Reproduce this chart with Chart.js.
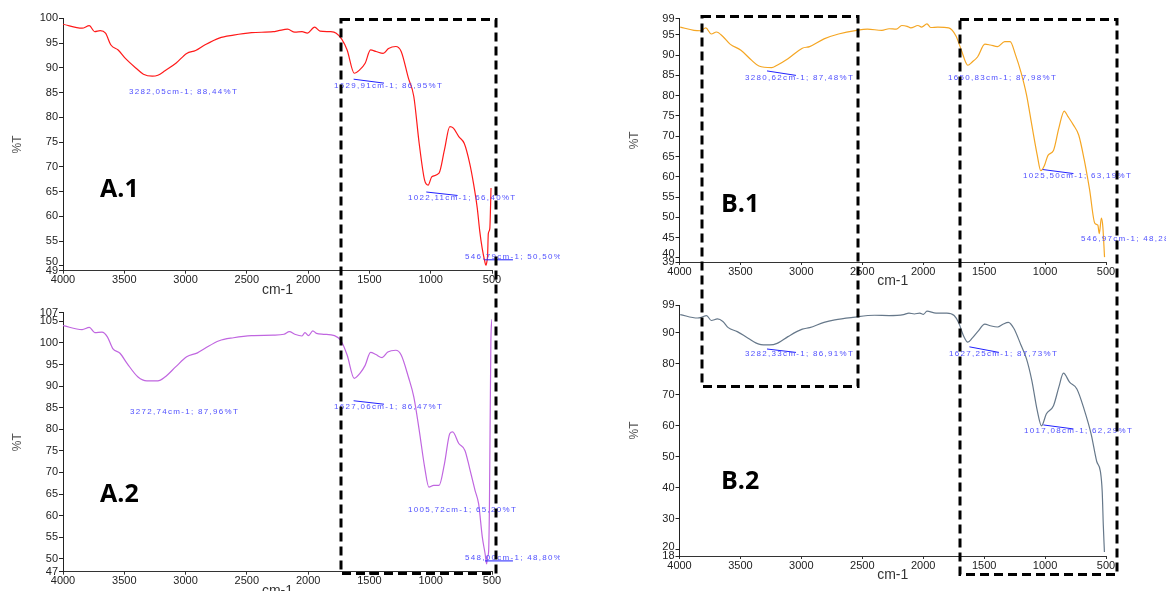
<!DOCTYPE html>
<html>
<head>
<meta charset="utf-8">
<script src="https://cdn.jsdelivr.net/npm/chart.js@4.4.0/dist/chart.umd.min.js"></script>
<style>
html,body{margin:0;padding:0;background:#fff;}
body{width:1166px;height:591px;position:relative;overflow:hidden;}
canvas{position:absolute;}
.tag{position:absolute;font:700 25px/25px "Open Sans",sans-serif;color:#000;}
svg{position:absolute;left:0;top:0;}
</style>
</head>
<body>
<canvas id="a1"></canvas>
<canvas id="a2"></canvas>
<canvas id="b1"></canvas>
<canvas id="b2"></canvas>
<div class="tag" style="left:100px;top:175px">A.1</div>
<div class="tag" style="left:100px;top:480px">A.2</div>
<div class="tag" style="left:721px;top:190px">B.1</div>
<div class="tag" style="left:721px;top:467px">B.2</div>
<svg width="1166" height="591">
  <g fill="none" stroke="#000" stroke-width="3" stroke-dasharray="9 5">
    <rect x="341" y="19.5" width="155" height="554"/>
    <rect x="702" y="16.5" width="156" height="370"/>
    <rect x="960" y="19.5" width="157" height="555"/>
  </g>
</svg>
<script>
function $(id){return document.getElementById(id);}
Chart.defaults.font.family='Liberation Sans';

// ========== Data ==========
const xTicks=[4000,3500,3000,2500,2000,1500,1000,500];

const a1Wn=[4000,3844,3785,3741,3697,3653,3609,3550,3491,3403,3344,3271,3226,3168,3079,2991,2918,2844,2726,2609,2462,2285,2241,2168,2109,2050,2006,1947,1903,1815,1771,1726,1682,1624,1579,1535,1491,1447,1388,1344,1285,1241,1182,1138,1094,1050,1021,991,932,888,844,815,771,726,682,650,620,600,580,560,550,542,536,530,518,508];
const a1T=[98.8,98.0,98.5,97.3,97.5,97.0,94.6,93.6,91.9,89.9,88.7,88.3,88.5,89.4,90.9,92.9,93.5,94.6,96.0,96.6,97.1,97.3,97.5,97.8,97.2,97.3,97.0,98.2,97.4,97.3,97.0,95.8,93.6,88.9,89.6,90.9,93.6,93.3,92.9,93.9,94.3,93.3,87.9,84.2,74.7,67.3,66.3,68.0,68.7,73.4,78.1,77.8,76.1,74.7,70.7,66.5,61.6,57.0,53.5,51.0,50.1,50.8,52.0,56.5,57.5,65.7];
const a1Ticks=[49,50,55,60,65,70,75,80,85,90,95,100];

const a2Wn=[4000,3844,3785,3741,3682,3638,3594,3535,3476,3388,3315,3226,3168,3079,2991,2903,2844,2726,2609,2462,2285,2197,2153,2109,2050,2026,1997,1962,1932,1874,1785,1732,1682,1624,1579,1535,1491,1447,1397,1350,1285,1241,1182,1138,1094,1050,1015,976,932,888,844,821,771,721,682,638,609,579,556,544,536,528,521,509,500];
const a2T=[104.0,103.1,103.6,102.4,102.5,101.4,98.7,97.6,95.2,92.1,91.2,91.2,92.1,94.5,96.8,97.7,98.7,100.5,101.2,101.7,101.8,102.0,102.6,102.0,101.6,102.4,101.7,102.8,102.2,102.0,101.7,100.5,97.2,91.8,92.9,94.8,97.8,97.3,96.6,97.9,98.3,97.2,92.1,87.5,79.8,71.3,66.6,67.0,67.0,72.0,79.0,79.4,76.7,75.1,70.9,65.8,62.7,55.0,51.1,48.8,50.5,51.5,62.0,100.7,105.5];
const a2Ticks=[47,50,55,60,65,70,75,80,85,90,95,100,105,107];

const b1Wn=[3994,3881,3828,3784,3739,3697,3644,3585,3496,3407,3348,3244,3199,3110,2992,2932,2814,2695,2547,2458,2339,2280,2221,2176,2132,2102,2043,2013,1969,1939,1880,1791,1731,1687,1634,1598,1553,1494,1450,1390,1331,1287,1242,1198,1153,1109,1064,1035,1005,976,931,887,843,813,768,724,680,635,591,567,555,538,526,512];
const b1T=[96.9,96.1,96.0,96.7,95.2,95.7,94.6,92.7,91.2,88.7,87.3,86.9,87.5,89.1,91.7,92.1,94.0,95.2,96.1,96.4,96.1,96.5,96.4,97.3,97.1,96.7,97.3,96.9,97.7,96.8,96.9,96.7,94.7,91.2,87.5,88.3,89.6,92.7,92.5,92.1,93.3,93.3,90.0,85.8,80.3,72.8,65.3,61.5,62.8,65.3,66.5,72.0,76.2,74.9,72.8,70.3,64.4,56.9,48.5,48.1,46.0,49.8,47.7,40.2];
const b1Ticks=[39,40,45,50,55,60,65,70,75,80,85,90,95,99];

const b2Wn=[3994,3852,3822,3778,3739,3689,3644,3600,3526,3437,3348,3259,3199,3110,2992,2932,2814,2725,2577,2399,2280,2162,2117,2073,2028,1998,1969,1895,1806,1746,1708,1672,1634,1598,1553,1494,1450,1390,1346,1301,1257,1198,1153,1109,1064,1029,990,931,887,849,799,739,680,621,576,546,531,522,513];
const b2T=[95.9,94.8,95.0,95.6,94.0,94.5,93.7,91.7,90.4,88.3,86.4,86.1,86.6,88.8,91.2,91.7,93.4,94.2,95.0,95.7,95.6,95.9,96.4,96.1,96.4,96.0,97.0,96.4,96.4,95.6,93.2,89.3,87.0,88.3,90.4,92.8,92.3,91.9,92.8,93.4,91.5,86.1,81.7,74.7,64.9,60.0,63.8,66.5,72.5,77.0,74.1,71.9,65.4,57.2,48.5,45.3,38.7,27.8,19.3];
const b2Ticks=[18,20,30,40,50,60,70,80,90,99];

// peak labels (text + where they sit, in axis units)
const a1Notes=[
  {t:'3282,05cm-1; 88,44%T',x:3462,y:85.2},
  {t:'1629,91cm-1; 86,95%T',x:1789,y:86.3,line:[1629,87.7,1381,86.9]},
  {t:'1022,11cm-1; 66,40%T',x:1186,y:63.7,line:[1036,64.9,781,64.2]},
  {t:'546,79cm-1; 50,50%',x:721,y:51.8,line:[561,51.2,329,51.2]}
];
const a2Notes=[
  {t:'3272,74cm-1; 87,96%T',x:3453,y:84.0},
  {t:'1627,06cm-1; 86,47%T',x:1789,y:85.3,line:[1629,86.6,1381,85.8]},
  {t:'1005,72cm-1; 65,20%T',x:1186,y:61.4},
  {t:'548,00cm-1; 48,80%',x:721,y:50.3,line:[557,49.5,329,49.5]}
];
const b1Notes=[
  {t:'3280,62cm-1; 87,48%T',x:3462,y:84.3,line:[3282,86.1,3044,85.0]},
  {t:'1650,83cm-1; 87,98%T',x:1797,y:84.5},
  {t:'1025,50cm-1; 63,19%T',x:1181,y:60.2,line:[1020,61.8,767,60.8]},
  {t:'546,97cm-1; 48,28%T',x:705,y:44.8}
];
const b2Notes=[
  {t:'3282,33cm-1; 86,91%T',x:3462,y:83.2,line:[3282,84.8,3044,83.7]},
  {t:'1627,25cm-1; 87,73%T',x:1788,y:83.4,line:[1621,85.5,1378,83.7]},
  {t:'1017,08cm-1; 62,29%T',x:1173,y:58.3,line:[1014,60.3,767,59.0]}
];

// ========== Plugin: peak labels + label nudge ==========
const notesPlugin={
  id:'notes',
  beforeDraw(chart,args,o){
    if(!o.nudge) return;
    try{
      const items=chart.scales.y.getLabelItems(chart.chartArea);
      items.forEach(it=>{
        if(String(it.label)===o.nudge.label && !it._nudged){
          it.options.translation[1]+=o.nudge.dy; it._nudged=true;
        }
      });
    }catch(e){}
  },
  afterDatasetsDraw(chart,args,o){
    const ctx=chart.ctx,xs=chart.scales.x,ys=chart.scales.y;
    ctx.save();
    ctx.font='8px "Liberation Sans"';
    ctx.textBaseline='middle';
    ctx.letterSpacing='1.3px';
    (o.items||[]).forEach(n=>{
      if(n.line){
        ctx.strokeStyle='#2020ff'; ctx.lineWidth=1;
        ctx.beginPath();
        ctx.moveTo(xs.getPixelForValue(n.line[0]),ys.getPixelForValue(n.line[1]));
        ctx.lineTo(xs.getPixelForValue(n.line[2]),ys.getPixelForValue(n.line[3]));
        ctx.stroke();
      }
      ctx.fillStyle='#5050ff';
      ctx.fillText(n.t,xs.getPixelForValue(n.x),ys.getPixelForValue(n.y));
    });
    ctx.restore();
  }
};

// ========== Panel ==========
function panel(id,box,area,wn,t,color,yTicks,notes,titlePad,nudge){
  const cv=$(id);
  cv.width=box.w; cv.height=box.h;
  cv.style.left=box.l+'px'; cv.style.top=box.t+'px';
  const YW=area.l-box.l, XH=30;
  const tickFont={family:'Liberation Sans',size:11};
  new Chart(cv,{
    type:'line',
    data:{datasets:[{data:wn.map((x,i)=>({x,y:t[i]})),borderColor:color,borderWidth:1.2,pointRadius:0,
      cubicInterpolationMode:'monotone',fill:false}]},
    options:{
      responsive:false,animation:false,devicePixelRatio:1,
      layout:{padding:{left:0,top:area.t-box.t,right:box.l+box.w-area.r,bottom:box.t+box.h-area.b-XH}},
      plugins:{legend:{display:false},tooltip:{enabled:false},notes:{items:notes,nudge:nudge}},
      scales:{
        x:{type:'linear',reverse:true,min:500,max:4000,
          afterFit:s=>{s.height=XH;},
          afterBuildTicks:s=>{s.ticks=xTicks.map(v=>({value:v}));},
          ticks:{maxRotation:0,autoSkip:false,padding:0,color:'#222',font:tickFont,callback:v=>String(v)},
          grid:{drawOnChartArea:false,tickLength:3,color:'#333'},
          border:{color:'#333',width:1},
          title:{display:true,text:'cm-1',color:'#333',font:{family:'Liberation Sans',size:14},padding:{top:0,bottom:2.6}}
        },
        y:{type:'linear',min:yTicks[0],max:yTicks[yTicks.length-1],
          afterFit:s=>{s.width=YW;},
          afterBuildTicks:s=>{s.ticks=yTicks.map(v=>({value:v}));},
          ticks:{autoSkip:false,padding:1,color:'#222',font:tickFont,callback:v=>String(v)},
          grid:{drawOnChartArea:false,tickLength:4,color:'#222'},
          border:{color:'#222',width:1},
          title:{display:true,text:'%T',color:'#555',font:{family:'Liberation Sans',size:12},padding:{top:titlePad,bottom:0}}
        }
      }
    },
    plugins:[notesPlugin]
  });
}

panel('a1',{l:0,t:0,w:560,h:302},{l:63,r:492,t:18.3,b:270.7},a1Wn,a1T,'#ff1a1a',a1Ticks,a1Notes,10.3,{label:'50',dy:-4});
panel('a2',{l:0,t:296,w:560,h:306},{l:63,r:492,t:312.7,b:571.7},a2Wn,a2T,'#c066e0',a2Ticks,a2Notes,10.3,null);
panel('b1',{l:600,t:0,w:566,h:295},{l:679.5,r:1106,t:18.6,b:262},b1Wn,b1T,'#f5a623',b1Ticks,b1Notes,27.3,{label:'40',dy:-4});
panel('b2',{l:600,t:290,w:566,h:301},{l:679.5,r:1106,t:305,b:556},b2Wn,b2T,'#66788a',b2Ticks,b2Notes,27.3,{label:'20',dy:-3});
</script>
</body>
</html>
